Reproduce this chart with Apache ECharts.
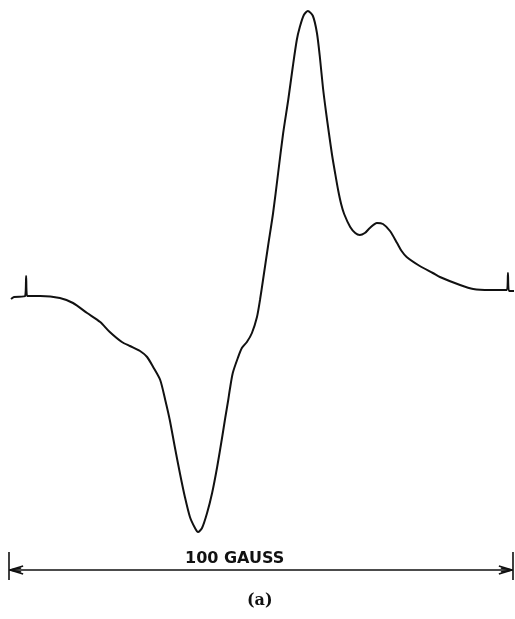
<!DOCTYPE html>
<html>
<head>
<meta charset="utf-8">
<script src="https://cdn.jsdelivr.net/npm/echarts@6/dist/echarts.min.js"></script>
<style>html,body{margin:0;padding:0;background:#fff}#c{width:515px;height:619px}</style>
</head>
<body>
<div id="c"></div>
<script>
// Magnetic field (gauss, relative to start of sweep)
var field = [0.4,1.0,3.2,3.4,3.6,6.2,10.1,12.7,15.5,18.1,20.0,22.4,24.0,26.0,27.4,28.6,30.0,31.0,31.9,32.9,33.9,34.9,35.9,36.9,37.5,38.3,39.3,40.3,41.3,42.3,42.9,43.5,43.8,44.4,45.4,46.2,47.2,48.2,49.2,49.8,50.4,51.4,52.4,53.4,54.4,55.4,56.3,57.1,57.7,58.5,59.3,60.3,61.1,61.7,62.3,62.9,63.5,64.1,64.7,65.3,65.9,66.5,67.7,68.7,69.6,70.6,71.6,73.0,74.2,75.6,77.0,77.9,78.9,81.5,84.1,85.5,89.5,92.1,95.4,97.4,98.8,99.0,99.2,100.2];
// Derivative signal (arbitrary units)
var signal = [-4,-2,-1,19,-1,-1,-3,-8,-18,-27,-37,-47,-51,-56,-62,-72,-85,-105,-125,-152,-178,-202,-222,-233,-237,-233,-218,-198,-172,-142,-123,-105,-95,-78,-63,-53,-47,-38,-22,-5,15,49,82,122,162,195,228,255,268,280,284,279,262,237,207,183,161,140,122,105,91,81,68,62,60,62,67,72,71,64,52,44,38,29,22,18,10,6,5,5,5,22,4,4];
// Scale bar: 100 gauss
var scaleStart = 0, scaleEnd = 100, scaleLevel = -275;
var scaleLabel = "100 GAUSS";
var panelLabel = "(a)";

var pts = field.map(function(f,i){return [f, signal[i]];});
var blk = '#111';
var ls = {color: blk, width: 1.6, type: 'solid'};
var markData = [
  [{coord:[scaleStart, scaleLevel]},{coord:[scaleEnd, scaleLevel]}],
  [{coord:[scaleStart, scaleLevel+18]},{coord:[scaleStart, scaleLevel-10]}],
  [{coord:[scaleEnd, scaleLevel+18]},{coord:[scaleEnd, scaleLevel-10]}],
  [{coord:[scaleStart+0.2, scaleLevel]},{coord:[scaleStart+2.8, scaleLevel+4]}],
  [{coord:[scaleStart+0.2, scaleLevel]},{coord:[scaleStart+2.8, scaleLevel-4]}],
  [{coord:[scaleStart+0.2, scaleLevel]},{coord:[scaleStart+2.4, scaleLevel+2]}],
  [{coord:[scaleStart+0.2, scaleLevel]},{coord:[scaleStart+2.4, scaleLevel-2]}],
  [{coord:[scaleEnd-0.2, scaleLevel]},{coord:[scaleEnd-2.8, scaleLevel+4]}],
  [{coord:[scaleEnd-0.2, scaleLevel]},{coord:[scaleEnd-2.8, scaleLevel-4]}],
  [{coord:[scaleEnd-0.2, scaleLevel]},{coord:[scaleEnd-2.4, scaleLevel+2]}],
  [{coord:[scaleEnd-0.2, scaleLevel]},{coord:[scaleEnd-2.4, scaleLevel-2]}]
];
var chart = echarts.init(document.getElementById('c'), null, {renderer:'canvas'});
chart.setOption({
  animation: false,
  backgroundColor: '#fff',
  grid: {left: 9, right: 2, top: 0, height: 619},
  xAxis: {type:'value', min:0, max:100, show:false},
  yAxis: {type:'value', min:-324, max:295, show:false},
  series: [{
    type:'line', data: pts, showSymbol:false, smooth:0.25,
    lineStyle:{color:blk, width:2},
    markLine: {
      silent:true, symbol:['none','none'], label:{show:false},
      lineStyle: ls, data: markData
    }
  }],
  graphic: [
    {type:'text', left: 185, top: 551, style:{text: scaleLabel, fill: blk, font: 'bold 16px "DejaVu Sans"'}},
    {type:'text', left: 247, top: 593, style:{text: panelLabel, fill: blk, font: 'bold 16px "DejaVu Serif"'}}
  ]
});
</script>
</body>
</html>
